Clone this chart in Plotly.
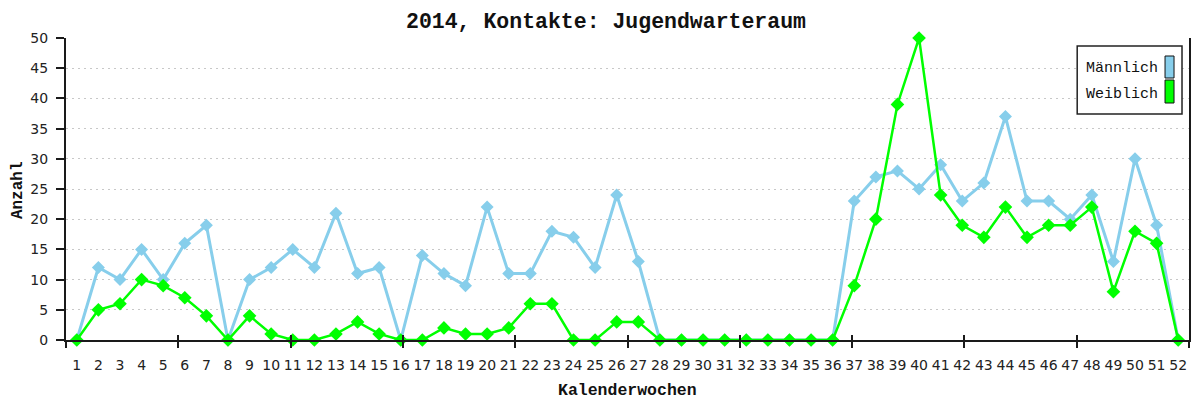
import plotly.graph_objects as go

# Weekly contact counts for the youth waiting room, 2014
weeks = list(range(1, 53))
week_labels = [str(w) for w in weeks]
maennlich = [0, 12, 10, 15, 10, 16, 19, 0, 10, 12, 15, 12, 21, 11, 12, 0,
             14, 11, 9, 22, 11, 11, 18, 17, 12, 24, 13, 0, 0, 0, 0, 0,
             0, 0, 0, 0, 23, 27, 28, 25, 29, 23, 26, 37, 23, 23, 20, 24,
             13, 30, 19, 0]
weiblich = [0, 5, 6, 10, 9, 7, 4, 0, 4, 1, 0, 0, 1, 3, 1, 0,
            0, 2, 1, 1, 2, 6, 6, 0, 0, 3, 3, 0, 0, 0, 0, 0,
            0, 0, 0, 0, 9, 20, 39, 50, 24, 19, 17, 22, 17, 19, 19, 22,
            8, 18, 16, 0]
y_ticks = list(range(0, 51, 5))
division_ticks = list(range(0, 11))

series_names = ["Männlich", "Weiblich"]
series_colors = ["#87CEEB", "#00FF00"]

W, H = 1194, 401
L, R, T, B = 66, 3, 38, 61
PW, PH = W - L - R, H - T - B

MONO = "Liberation Mono, DejaVu Sans Mono, monospace"
SANS = "DejaVu Sans, Arial, sans-serif"


def px_x(px):
    return (px - L) / PW


def px_y(py):
    return 1 - (py - T) / PH


fig = go.Figure()
fig.add_trace(go.Scatter(
    x=weeks, y=maennlich, name=series_names[0], mode="lines+markers",
    line=dict(color=series_colors[0], width=3),
    marker=dict(symbol="diamond", size=10, color=series_colors[0]),
    cliponaxis=False, showlegend=False))
fig.add_trace(go.Scatter(
    x=weeks, y=weiblich, name=series_names[1], mode="lines+markers",
    line=dict(color=series_colors[1], width=2.5),
    marker=dict(symbol="diamond", size=10.5, color=series_colors[1]),
    cliponaxis=False, showlegend=False))

# empty helper traces so the division-tick axes get drawn
for ax in ("x2", "x3"):
    fig.add_trace(go.Scatter(x=[division_ticks[0], division_ticks[-1]],
                             y=[None, None], xaxis=ax, yaxis="y",
                             mode="lines", showlegend=False, hoverinfo="skip"))

axis_line = "#1a1a1a"

fig.update_layout(
    width=W, height=H,
    margin=dict(l=L, r=R, t=T, b=B, pad=0),
    paper_bgcolor="white", plot_bgcolor="white",
    title=dict(text="<b>2014, Kontakte: Jugendwarteraum</b>",
               font=dict(family=MONO, size=21.5, color="#111"),
               x=606 / W, xref="container", xanchor="center",
               y=1 - 20 / H, yref="container", yanchor="middle"),
    xaxis=dict(range=[0.5, 52.5], tickmode="array", tickvals=weeks,
               ticktext=week_labels, ticks="", showgrid=False,
               zeroline=False, showline=True, linecolor=axis_line,
               linewidth=2, tickfont=dict(family=SANS, size=14, color="#222"),
               ticklabelstandoff=11),
    # division ticks along the category axis (crossing the axis line)
    xaxis2=dict(range=[0, 10], overlaying="x", anchor="y", side="bottom",
                tickmode="array", tickvals=division_ticks,
                ticks="outside", ticklen=7, tickwidth=1.5,
                tickcolor=axis_line, showticklabels=False,
                showgrid=False, zeroline=False, showline=False),
    xaxis3=dict(range=[0, 10], overlaying="x", anchor="y", side="bottom",
                tickmode="array", tickvals=division_ticks,
                ticks="inside", ticklen=5, tickwidth=1.5,
                tickcolor=axis_line, showticklabels=False,
                showgrid=False, zeroline=False, showline=False),
    yaxis=dict(range=[0, 50], tickmode="array", tickvals=y_ticks,
               ticks="outside", ticklen=8, tickwidth=1.5,
               tickcolor=axis_line, showline=True, mirror=True,
               linecolor=axis_line, linewidth=2, zeroline=False,
               showgrid=True, gridcolor="#c8c8c8", gridwidth=1,
               griddash="2px,4px",
               tickfont=dict(family=SANS, size=14, color="#222"),
               ticklabelstandoff=5),
)

# Axis titles
fig.add_annotation(text="<b>Kalenderwochen</b>", xref="paper", yref="paper",
                   x=px_x(628), y=px_y(390), showarrow=False,
                   font=dict(family=MONO, size=16.5, color="#111"),
                   xanchor="center", yanchor="middle")
fig.add_annotation(text="<b>Anzahl</b>", xref="paper", yref="paper",
                   x=px_x(18), y=px_y(190), showarrow=False, textangle=-90,
                   font=dict(family=MONO, size=16, color="#111"),
                   xanchor="center", yanchor="middle")

# Legend box with swatches on the right of the labels
fig.add_shape(type="rect", xref="paper", yref="paper",
              x0=px_x(1079), x1=px_x(1184), y0=px_y(114), y1=px_y(46),
              line=dict(color="#222", width=1.5), fillcolor="white", layer="above")
legend_rows = [(56, 78, 69), (80, 103, 94)]
for name, color, (top, bottom, mid) in zip(series_names, series_colors, legend_rows):
    fig.add_shape(type="rect", xref="paper", yref="paper",
                  x0=px_x(1167), x1=px_x(1176), y0=px_y(bottom), y1=px_y(top),
                  line=dict(color="#111", width=1), fillcolor=color, layer="above")
    fig.add_annotation(text=name, xref="paper", yref="paper",
                       x=px_x(1086), y=px_y(mid), showarrow=False,
                       xanchor="left", yanchor="middle",
                       font=dict(family=MONO, size=15, color="#111"))

fig.write_html("out.html")
